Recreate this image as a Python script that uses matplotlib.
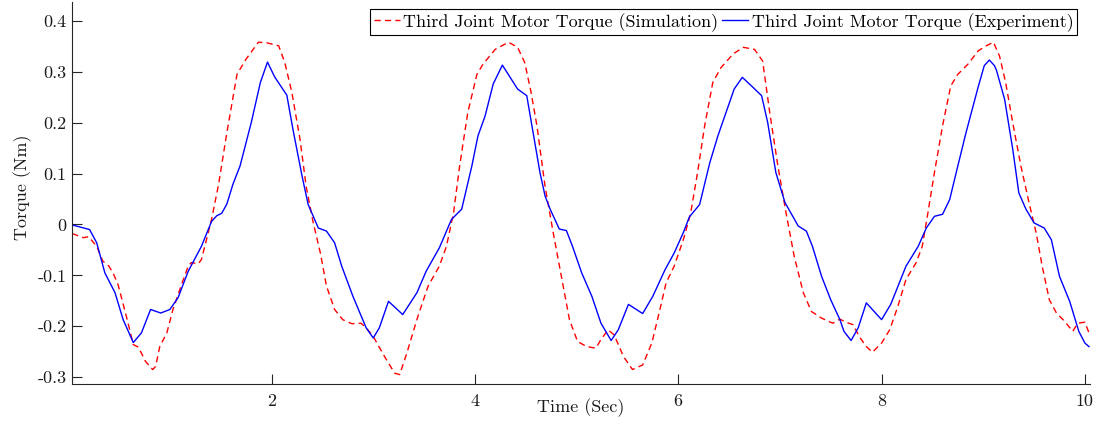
import matplotlib
matplotlib.use("Agg")
import matplotlib.pyplot as plt
from matplotlib.ticker import FixedLocator, FixedFormatter

# ---------------- data ----------------
t_exp = [0.04, 0.21, 0.28, 0.36, 0.46, 0.54, 0.64, 0.72, 0.81, 0.91, 1.00, 1.08, 1.18, 1.31,
         1.41, 1.46, 1.51, 1.56, 1.62, 1.69, 1.80, 1.89, 1.96, 2.03, 2.15, 2.21, 2.30, 2.36, 2.46,
         2.54, 2.62, 2.69, 2.80, 2.93, 3.00, 3.06, 3.15, 3.29, 3.43, 3.52, 3.65, 3.77, 3.87,
         3.97, 4.03, 4.10, 4.18, 4.27, 4.42, 4.51, 4.59, 4.64, 4.69, 4.74, 4.83, 4.90, 4.96,
         5.05, 5.15, 5.24, 5.34, 5.41, 5.51, 5.65, 5.75, 5.87, 5.96, 6.05, 6.11, 6.21, 6.31,
         6.39, 6.47, 6.55, 6.63, 6.70, 6.82, 6.88, 6.96, 7.05, 7.18, 7.26, 7.32, 7.41, 7.50,
         7.59, 7.63, 7.70, 7.77, 7.85, 8.00, 8.09, 8.24, 8.36, 8.44, 8.52, 8.60, 8.67, 8.75,
         8.83, 8.95, 9.01, 9.06, 9.11, 9.13, 9.21, 9.29, 9.35, 9.42, 9.50, 9.60, 9.67, 9.75,
         9.85, 9.94, 10.00, 10.04]
v_exp = [-0.001, -0.010, -0.036, -0.095, -0.134, -0.187, -0.232, -0.213, -0.167, -0.174, -0.167,
         -0.144, -0.092, -0.043, 0.006, 0.017, 0.022, 0.040, 0.079, 0.115, 0.200, 0.279, 0.319,
         0.290, 0.254, 0.187, 0.095, 0.039, -0.007, -0.013, -0.036, -0.082, -0.141, -0.203,
         -0.223, -0.203, -0.151, -0.177, -0.134, -0.092, -0.046, 0.010, 0.030, 0.115, 0.174,
         0.213, 0.276, 0.313, 0.266, 0.253, 0.160, 0.102, 0.056, 0.030, -0.009, -0.012, -0.043,
         -0.095, -0.141, -0.194, -0.228, -0.207, -0.157, -0.175, -0.141, -0.089, -0.056, -0.016,
         0.015, 0.039, 0.121, 0.174, 0.220, 0.266, 0.289, 0.276, 0.253, 0.200, 0.102, 0.043,
         -0.003, -0.013, -0.043, -0.102, -0.148, -0.187, -0.210, -0.228, -0.203, -0.154, -0.187,
         -0.157, -0.082, -0.043, -0.007, 0.016, 0.020, 0.049, 0.115, 0.180, 0.270, 0.312, 0.323,
         0.312, 0.303, 0.246, 0.148, 0.062, 0.030, 0.003, -0.007, -0.030, -0.102, -0.151,
         -0.210, -0.233, -0.240]

t_sim = [0.04, 0.15, 0.20, 0.28, 0.34, 0.40, 0.44, 0.49, 0.58, 0.64, 0.69, 0.76, 0.83, 0.86,
         0.90, 0.97, 1.03, 1.12, 1.18, 1.21, 1.28, 1.31, 1.41, 1.48, 1.56, 1.66, 1.75, 1.87,
         1.95, 2.07, 2.13, 2.20, 2.28, 2.34, 2.41, 2.48, 2.54, 2.62, 2.70, 2.79, 2.88, 2.93,
         3.00, 3.11, 3.21, 3.26, 3.33, 3.44, 3.54, 3.65, 3.72, 3.79, 3.85, 3.93, 4.02, 4.08,
         4.20, 4.33, 4.42, 4.49, 4.55, 4.61, 4.69, 4.77, 4.85, 4.93, 5.01, 5.10, 5.19, 5.24,
         5.31, 5.37, 5.46, 5.55, 5.65, 5.74, 5.82, 5.88, 5.96, 6.05, 6.12, 6.19, 6.26, 6.34,
         6.42, 6.54, 6.64, 6.75, 6.83, 6.90, 6.98, 7.06, 7.14, 7.23, 7.31, 7.41, 7.52, 7.59,
         7.65, 7.72, 7.78, 7.85, 7.91, 8.00, 8.08, 8.16, 8.24, 8.34, 8.40, 8.45, 8.52, 8.60,
         8.68, 8.75, 8.85, 8.95, 9.03, 9.10, 9.16, 9.22, 9.29, 9.37, 9.45, 9.52, 9.58, 9.65,
         9.72, 9.80, 9.88, 9.93, 10.00, 10.04]
v_sim = [-0.018, -0.026, -0.024, -0.043, -0.072, -0.082, -0.095, -0.118, -0.187, -0.236, -0.241,
         -0.269, -0.285, -0.279, -0.240, -0.213, -0.167, -0.115, -0.082, -0.075, -0.077, -0.069,
         0.010, 0.080, 0.180, 0.295, 0.325, 0.358, 0.357, 0.351, 0.318, 0.259, 0.167, 0.075,
         0.003, -0.056, -0.121, -0.167, -0.187, -0.195, -0.194, -0.203, -0.220, -0.259, -0.292,
         -0.295, -0.253, -0.180, -0.121, -0.082, -0.043, 0.023, 0.115, 0.220, 0.295, 0.315,
         0.344, 0.358, 0.348, 0.318, 0.262, 0.194, 0.075, -0.016, -0.102, -0.187, -0.230, -0.240,
         -0.243, -0.226, -0.207, -0.217, -0.259, -0.285, -0.276, -0.233, -0.167, -0.115, -0.082,
         -0.030, 0.020, 0.102, 0.194, 0.279, 0.308, 0.335, 0.348, 0.344, 0.321, 0.220, 0.115,
         0.023, -0.062, -0.134, -0.171, -0.184, -0.194, -0.186, -0.192, -0.197, -0.220, -0.240,
         -0.251, -0.233, -0.207, -0.161, -0.108, -0.075, -0.043, 0.016, 0.102, 0.194, 0.272,
         0.295, 0.315, 0.341, 0.351, 0.358, 0.331, 0.279, 0.200, 0.115, 0.043, -0.016, -0.082,
         -0.148, -0.174, -0.190, -0.210, -0.194, -0.192, -0.213]

x_ticks = [2, 4, 6, 8, 10]
x_tick_labels = ["2", "4", "6", "8", "10"]
y_ticks = [-0.3, -0.2, -0.1, 0.0, 0.1, 0.2, 0.3, 0.4]
y_tick_labels = ["-0.3", "-0.2", "-0.1", "0", "0.1", "0.2", "0.3", "0.4"]

label_sim = "Third Joint Motor Torque (Simulation)"
label_exp = "Third Joint Motor Torque (Experiment)"
x_label = "Time (Sec)"
y_label = "Torque (Nm)"

# ---------------- style ----------------
plt.rcParams['font.family'] = ['cmr10', 'DejaVu Serif']
plt.rcParams['axes.unicode_minus'] = False
plt.rcParams['mathtext.fontset'] = 'cm'
FS = 13
axcol = '#262626'

W, H = 1103, 430
fig = plt.figure(figsize=(W / 100, H / 100), dpi=100)
left, right, bottom, top = 72.3, 1090, 384.3, 2.0
ax = fig.add_axes([left / W, 1 - bottom / H, (right - left) / W, (bottom - top) / H])

ax.plot(t_sim, v_sim, color='#FF0000', lw=1.0, linestyle=(0, (4.5, 3.0)), label=label_sim)
ax.plot(t_exp, v_exp, color='#0000FF', lw=1.0, label=label_exp)

ax.set_xlim(0.04, 10.05)
ax.set_ylim(-0.314, 0.437)

for s in ['top', 'right']:
    ax.spines[s].set_visible(False)
for s in ['left', 'bottom']:
    ax.spines[s].set_color(axcol)
    ax.spines[s].set_linewidth(0.8)

ax.xaxis.set_major_locator(FixedLocator(x_ticks))
ax.xaxis.set_major_formatter(FixedFormatter(x_tick_labels))
ax.yaxis.set_major_locator(FixedLocator(y_ticks))
ax.yaxis.set_major_formatter(FixedFormatter(y_tick_labels))
ax.tick_params(direction='in', length=7.5, width=0.8, colors=axcol, labelsize=FS,
               labelcolor='#1a1a1a')
ax.tick_params(axis='x', pad=7)
ax.tick_params(axis='y', pad=4)

ax.set_xlabel(x_label, fontsize=FS, color='#1a1a1a')
ax.xaxis.set_label_coords(0.5, -0.062)
ax.xaxis.label.set_va('center')
ax.set_ylabel(y_label, fontsize=FS, color='#1a1a1a')
ax.yaxis.set_label_coords(-0.049, 0.516)
ax.yaxis.label.set_va('center')

leg = ax.legend(loc='upper right', bbox_to_anchor=(1077.3 / W, 1 - 9.3 / H),
                bbox_transform=fig.transFigure, ncol=2, fontsize=FS, frameon=True,
                fancybox=False, framealpha=1.0, edgecolor='black', borderaxespad=0,
                handlelength=1.45, handletextpad=0.2, columnspacing=0.2, borderpad=0.2)
leg.get_frame().set_linewidth(0.8)

fig.savefig('out.png', dpi=100)
